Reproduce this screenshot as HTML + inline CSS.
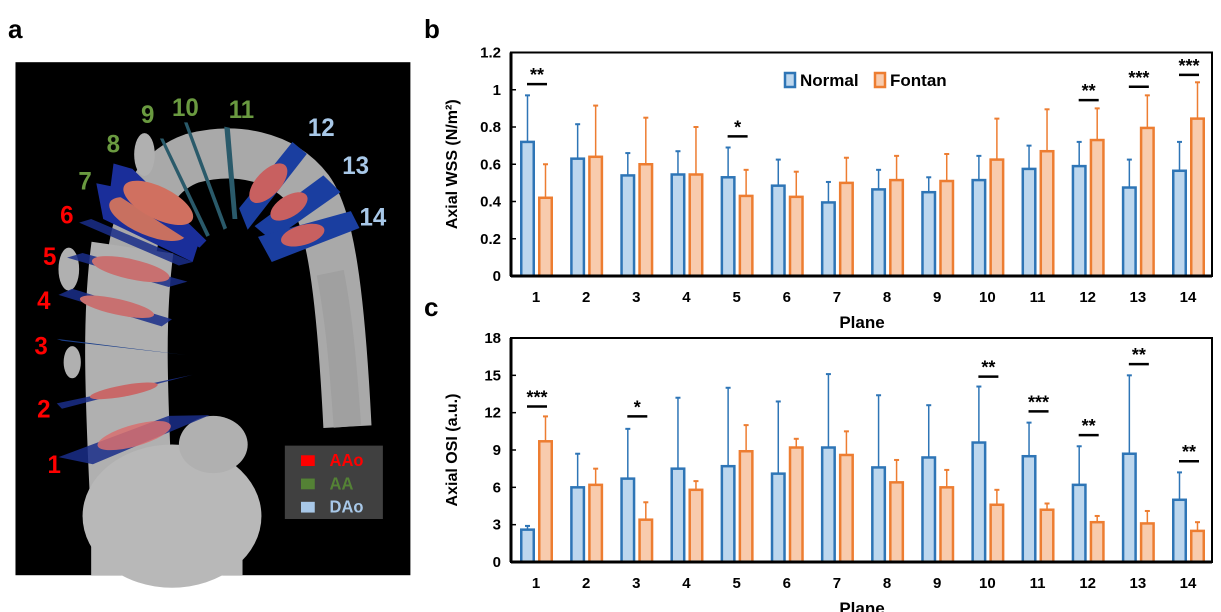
<!DOCTYPE html>
<html><head><meta charset="utf-8"><style>
html,body{margin:0;padding:0;background:#fff;}
body{width:1221px;height:612px;position:relative;overflow:hidden;font-family:"Liberation Sans",Arial,sans-serif;}
svg{position:absolute;left:0;top:0;}
</style></head><body>
<svg id="root" width="1221" height="612" viewBox="0 0 1221 612">
<text x="8" y="38" font-size="26" font-weight="bold">a</text>
<text x="424" y="38" font-size="26" font-weight="bold">b</text>
<text x="424" y="316" font-size="26" font-weight="bold">c</text>

<g transform="translate(0,40) scale(0.344,0.358)">
  <rect x="45" y="62" width="1148" height="1433" fill="#000"/>
  <g fill="#b0b0b0" stroke="none">
    <path d="M385,1200 C370,900 360,700 390,560 C420,430 470,360 560,330 C680,300 820,320 900,420 C960,500 990,700 1010,1080" fill="none" stroke="#a9a9a9" stroke-width="140"/>
    <path d="M380,1250 C365,950 360,760 385,580" fill="none" stroke="#b0b0b0" stroke-width="240"/>
    <path d="M960,650 C990,800 1000,950 1010,1080" fill="none" stroke="#a0a0a0" stroke-width="80"/>
    <ellipse cx="500" cy="1330" rx="260" ry="200" fill="#b8b8b8"/>
    <rect x="265" y="1300" width="440" height="195" fill="#b8b8b8"/>
    <ellipse cx="620" cy="1130" rx="100" ry="80" fill="#b0b0b0"/>
    <ellipse cx="420" cy="320" rx="30" ry="60"/>
    <ellipse cx="200" cy="640" rx="30" ry="60"/>
    <ellipse cx="210" cy="900" rx="25" ry="45"/>
  </g>
  <g>
    <polygon points="170,1165 490,1050 610,1048 270,1185" fill="#1a2e8a" opacity="0.85"/>
    <ellipse cx="390" cy="1105" rx="110" ry="30" fill="#d87070" transform="rotate(-15 390 1105)" opacity="0.85"/>
    <polygon points="165,1015 560,935 180,1030" fill="#1a2e8a" opacity="0.85"/>
    <ellipse cx="360" cy="980" rx="100" ry="16" fill="#c86868" transform="rotate(-10 360 980)"/>
    <polygon points="165,835 540,880 180,840" fill="#1a3e8a"/>
    <polygon points="170,712 210,695 500,780 470,800" fill="#1a2e8a" opacity="0.85"/>
    <ellipse cx="340" cy="745" rx="110" ry="22" fill="#c87070" transform="rotate(12 340 745)"/>
    <polygon points="195,608 240,595 545,675 490,690" fill="#1a2e8a" opacity="0.85"/>
    <ellipse cx="380" cy="640" rx="115" ry="28" fill="#c87070" transform="rotate(12 380 640)"/>
    <polygon points="230,510 265,500 560,620 520,630" fill="#1a2e8a" opacity="0.85"/>
    <polygon points="280,400 330,410 580,560 560,620 300,500" fill="#1a2e9a"/>
    <ellipse cx="430" cy="500" rx="120" ry="45" fill="#c87060" transform="rotate(22 430 500)"/>
    <polygon points="330,345 385,360 600,560 580,580 320,420" fill="#1a2e9a"/>
    <ellipse cx="460" cy="455" rx="110" ry="45" fill="#d07060" transform="rotate(25 460 455)"/>
    <polygon points="465,275 475,275 610,545 600,550" fill="#2a5a6a"/>
    <polygon points="535,230 545,230 660,525 650,530" fill="#2a5a6a"/>
    <polygon points="652,242 668,245 690,500 676,500" fill="#2a5a6a"/>
    <polygon points="695,470 850,285 892,318 720,530" fill="#1a3ea0"/>
    <ellipse cx="780" cy="400" rx="70" ry="35" fill="#c86060" transform="rotate(-45 780 400)"/>
    <polygon points="740,520 940,378 990,425 790,560" fill="#1a3ea0"/>
    <ellipse cx="840" cy="465" rx="60" ry="30" fill="#c86060" transform="rotate(-30 840 465)"/>
    <polygon points="750,550 1020,478 1045,525 790,620" fill="#1a3ea0"/>
    <ellipse cx="880" cy="545" rx="65" ry="28" fill="#c86060" transform="rotate(-15 880 545)"/>
  </g>
  <g font-size="70" font-weight="bold">
    <text x="138" y="1210" fill="#ff0000">1</text>
    <text x="108" y="1055" fill="#ff0000">2</text>
    <text x="100" y="878" fill="#ff0000">3</text>
    <text x="108" y="752" fill="#ff0000">4</text>
    <text x="125" y="628" fill="#ff0000">5</text>
    <text x="175" y="512" fill="#ff0000">6</text>
    <text x="228" y="418" fill="#6a9a40">7</text>
    <text x="310" y="314" fill="#6a9a40">8</text>
    <text x="410" y="232" fill="#6a9a40">9</text>
    <text x="500" y="212" fill="#6a9a40">10</text>
    <text x="665" y="218" fill="#6a9a40">11</text>
    <text x="895" y="268" fill="#a8c8e8">12</text>
    <text x="995" y="375" fill="#a8c8e8">13</text>
    <text x="1045" y="518" fill="#a8c8e8">14</text>
  </g>
  <g>
    <rect x="828" y="1133" width="285" height="205" fill="#404040"/>
    <rect x="875" y="1160" width="40" height="30" fill="#ff0000"/>
    <rect x="875" y="1225" width="40" height="30" fill="#548235"/>
    <rect x="875" y="1290" width="40" height="30" fill="#a8c8e8"/>
    <text x="958" y="1190" font-size="48" font-weight="bold" fill="#ff0000">AAo</text>
    <text x="958" y="1255" font-size="48" font-weight="bold" fill="#548235">AA</text>
    <text x="958" y="1320" font-size="48" font-weight="bold" fill="#a8c8e8">DAo</text>
  </g>
</g>
<g id="chartB"></g>
<g id="chartC"></g>
</svg>
<script>
const planes = [1,2,3,4,5,6,7,8,9,10,11,12,13,14];
const wssNormal = [0.72,0.63,0.54,0.545,0.53,0.485,0.395,0.465,0.45,0.515,0.575,0.59,0.475,0.565];
const wssNormalErr = [0.97,0.815,0.66,0.67,0.69,0.625,0.505,0.57,0.53,0.645,0.70,0.72,0.625,0.72];
const wssFontan = [0.42,0.64,0.60,0.545,0.43,0.425,0.50,0.515,0.51,0.625,0.67,0.73,0.795,0.845];
const wssFontanErr = [0.60,0.915,0.85,0.80,0.57,0.56,0.635,0.645,0.655,0.845,0.895,0.90,0.97,1.04];
const wssTicks = ["0","0.2","0.4","0.6","0.8","1","1.2"];
const wssSigPlanes = [1,5,12,13,14];
const wssSigLabels = ["**","*","**","***","***"];
const wssSigLevels = [1.03,0.75,0.944,1.016,1.08];

const osiNormal = [2.6,6.0,6.7,7.5,7.7,7.1,9.2,7.6,8.4,9.6,8.5,6.2,8.7,5.0];
const osiNormalErr = [2.9,8.7,10.7,13.2,14.0,12.9,15.1,13.4,12.6,14.1,11.2,9.3,15.0,7.2];
const osiFontan = [9.7,6.2,3.4,5.8,8.9,9.2,8.6,6.4,6.0,4.6,4.2,3.2,3.1,2.5];
const osiFontanErr = [11.7,7.5,4.8,6.5,11.0,9.9,10.5,8.2,7.4,5.8,4.7,3.7,4.1,3.2];
const osiTicks = ["0","3","6","9","12","15","18"];
const osiSigPlanes = [1,3,10,11,12,13,14];
const osiSigLabels = ["***","*","**","***","**","**","**"];
const osiSigLevels = [12.5,11.7,14.9,12.1,10.2,15.9,8.1];

const NS = "http://www.w3.org/2000/svg";
function mk(parent, tag, attrs, txt){
  const e = document.createElementNS(NS, tag);
  for (const k in attrs) e.setAttribute(k, attrs[k]);
  if (txt !== undefined) e.textContent = txt;
  parent.appendChild(e);
  return e;
}
function drawChart(g, o){
  const x0=511, x1=1212, c0=536, c1=1188;
  const yScale = v => o.yBottom - (v/o.max)*(o.yBottom-o.yTop);
  const xScale = i => c0 + (c1-c0)*(i)/(planes.length-1);
  const frame = mk(g,'rect',{x:x0,y:o.yTop,width:x1-x0,height:o.yBottom-o.yTop,fill:'none',stroke:'#000','stroke-width':2});
  
  
  o.ticks.forEach((t,i)=>{
    const v = o.max*i/(o.ticks.length-1);
    const y = yScale(v);
    const tk = mk(g,'line',{x1:x0,x2:x0+5,y1:y,y2:y,stroke:'#000','stroke-width':1.5});
    
    
    const tl = mk(g,'text',{x:x0-10,y:y+5,'font-size':15,'font-weight':'bold','text-anchor':'end'},t);
    
    
  });
  planes.forEach((p,i)=>{
    const c = xScale(i);
    const series = [[o.normal[i],o.nErr[i],c-16,'#2e75b6','#bdd7ee','normal'],[o.fontan[i],o.fErr[i],c+2,'#ed7d31','#f8cbad','fontan']];
    series.forEach(s=>{
      const yv = yScale(s[0]), ye = yScale(s[1]), mid = s[2]+7.5;
      const el = mk(g,'line',{x1:mid,x2:mid,y1:yv,y2:ye,stroke:s[3],'stroke-width':1.5});
      
      
      const cap = mk(g,'line',{x1:mid-2.5,x2:mid+2.5,y1:ye,y2:ye,stroke:s[3],'stroke-width':2});
      
      
      const b = mk(g,'rect',{x:s[2]+1.25,y:yv,width:12.5,height:o.yBottom-yv,fill:s[4],stroke:s[3],'stroke-width':2.5});
      
      
    });
    const xl = mk(g,'text',{x:c,y:o.yBottom+26,'font-size':15,'font-weight':'bold','text-anchor':'middle'},String(p));
    
    
  });
  const base = mk(g,'line',{x1:x0,x2:x1,y1:o.yBottom,y2:o.yBottom,stroke:'#000','stroke-width':3});
  
  
  const yl = mk(g,'line',{x1:x0,x2:x0,y1:o.yTop,y2:o.yBottom,stroke:'#000','stroke-width':3});
  
  
  o.sigP.forEach((p,k)=>{
    const c = xScale(p-1)+1, y = yScale(o.sigV[k]);
    const l = mk(g,'line',{x1:c-10,x2:c+10,y1:y,y2:y,stroke:'#000','stroke-width':2.5});
    
    
    const t = mk(g,'text',{x:c,y:y-3,'font-size':18,'font-weight':'bold','text-anchor':'middle'},o.sigL[k]);
    
    
  });
  const xt = mk(g,'text',{x:862,y:o.yBottom+52,'font-size':17,'font-weight':'bold','text-anchor':'middle'},'Plane');
  
  
  const yt = mk(g,'text',{x:0,y:0,'font-size':16,'font-weight':'bold','text-anchor':'middle',transform:`translate(457,${(o.yTop+o.yBottom)/2}) rotate(-90)`},o.ytitle);
  
  
}
drawChart(document.getElementById('chartB'),{yTop:52.5,yBottom:276,max:1.2,ticks:wssTicks,normal:wssNormal,nErr:wssNormalErr,fontan:wssFontan,fErr:wssFontanErr,sigP:wssSigPlanes,sigL:wssSigLabels,sigV:wssSigLevels,ytitle:'Axial WSS (N/m²)'});
drawChart(document.getElementById('chartC'),{yTop:338,yBottom:562,max:18,ticks:osiTicks,normal:osiNormal,nErr:osiNormalErr,fontan:osiFontan,fErr:osiFontanErr,sigP:osiSigPlanes,sigL:osiSigLabels,sigV:osiSigLevels,ytitle:'Axial OSI (a.u.)'});
const gb = document.getElementById('chartB');
const lg = mk(gb,'g',{});


const l1 = mk(lg,'rect',{x:785,y:73,width:10,height:14,fill:'#bdd7ee',stroke:'#2e75b6','stroke-width':2.5});


const t1 = mk(lg,'text',{x:800,y:86,'font-size':17,'font-weight':'bold'},'Normal');


const l2 = mk(lg,'rect',{x:875,y:73,width:10,height:14,fill:'#f8cbad',stroke:'#ed7d31','stroke-width':2.5});


const t2 = mk(lg,'text',{x:890,y:86,'font-size':17,'font-weight':'bold'},'Fontan');


</script>
</body></html>
